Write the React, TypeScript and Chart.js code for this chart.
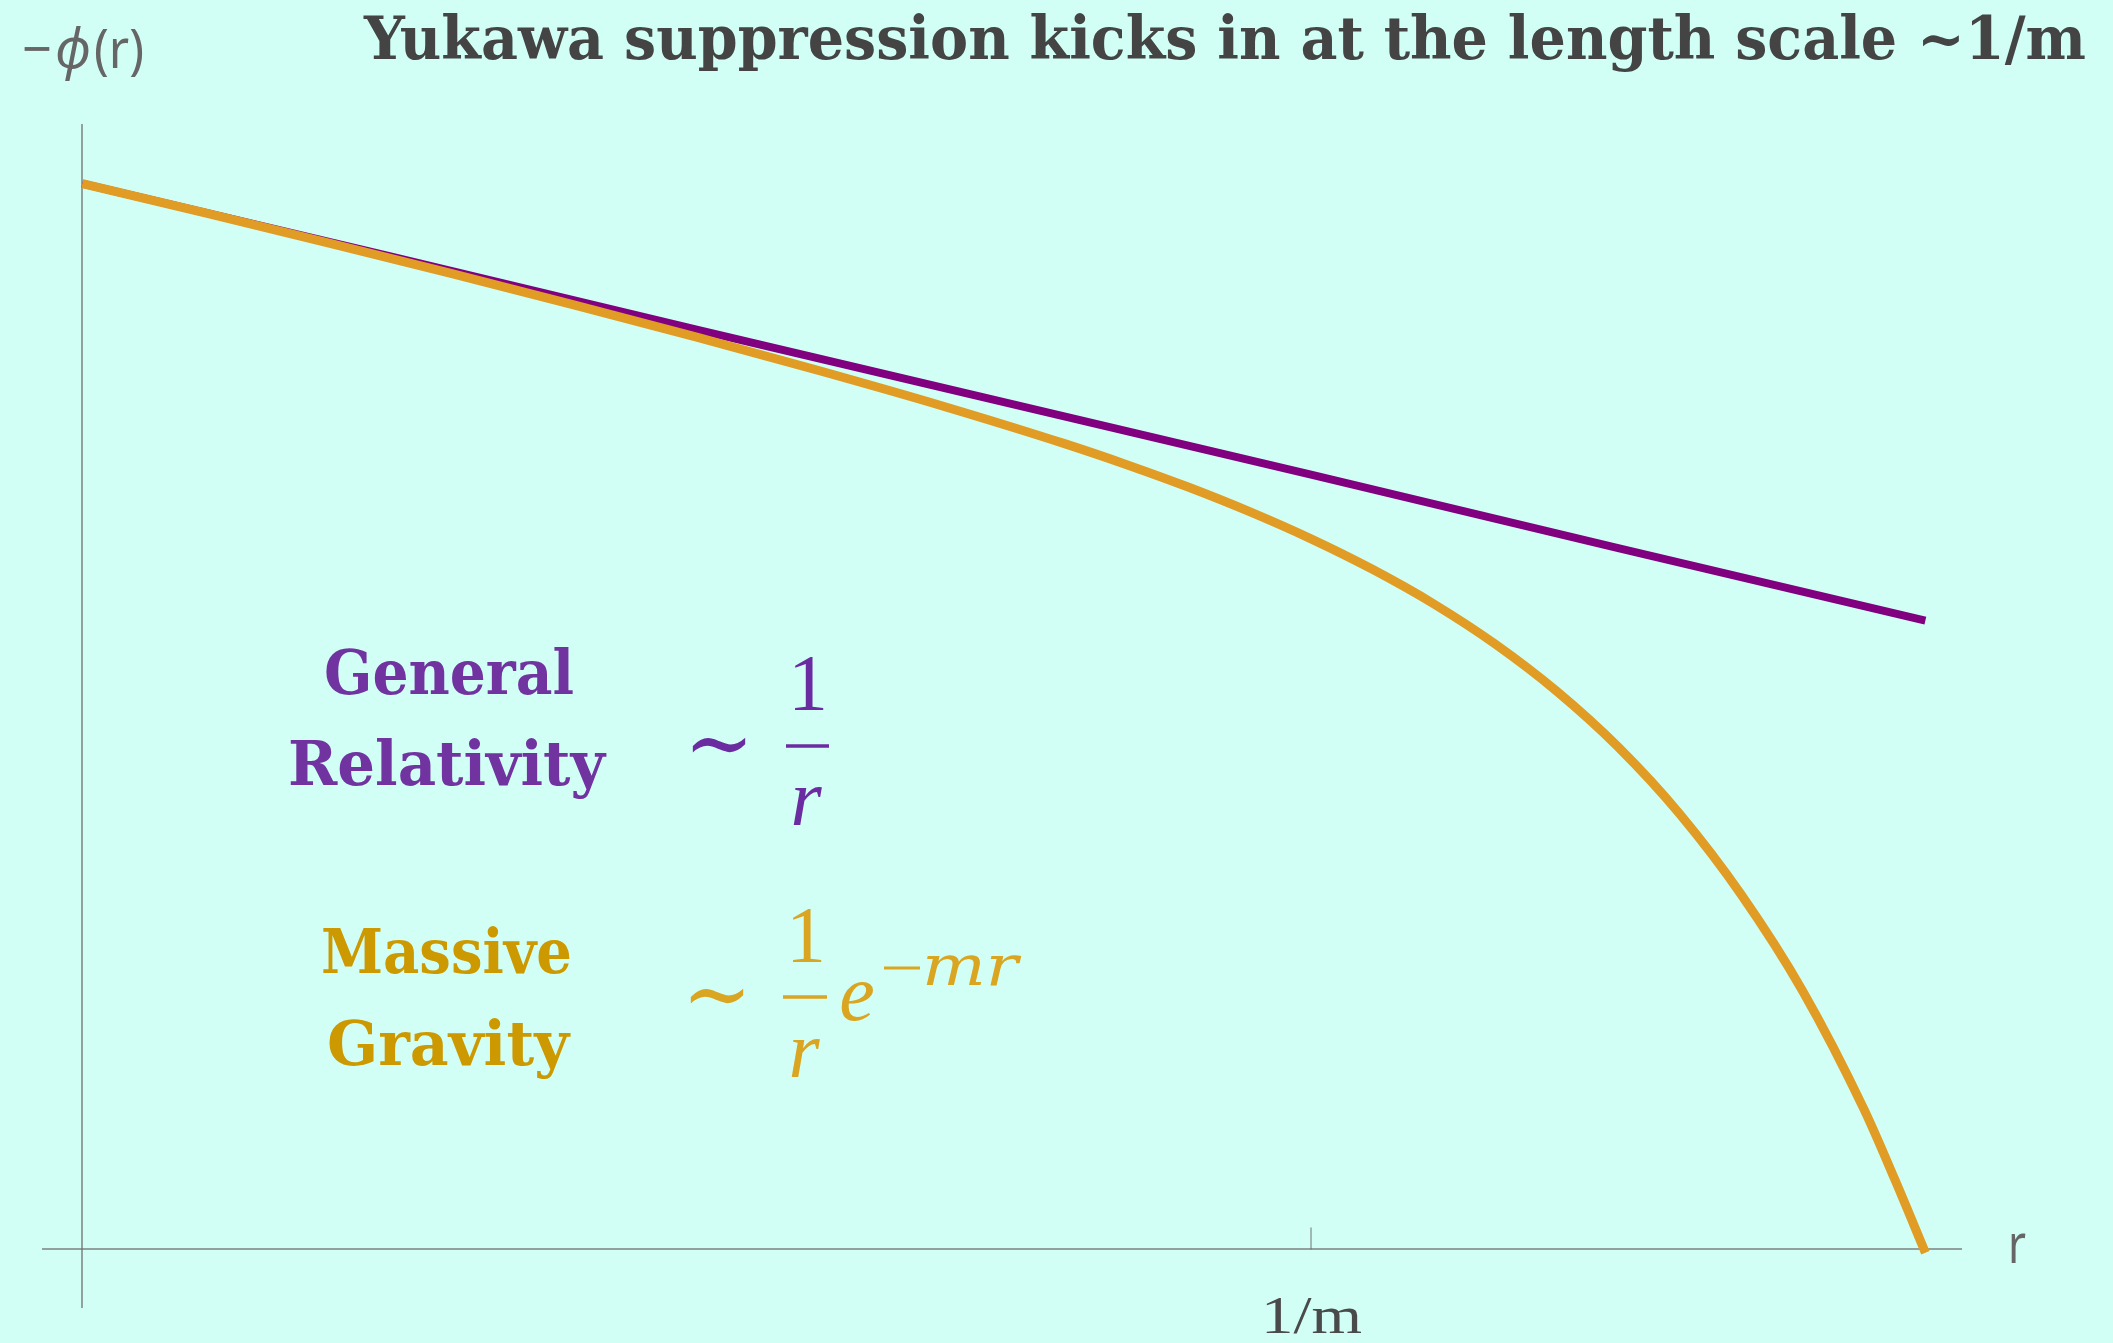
import React, { useEffect, useRef } from "react";
import { Chart, registerables } from "chart.js";

Chart.register(...registerables);

// ---- data (r in units of 1/m, potential in arbitrary units) ----
const rGR = [0, 0.25, 0.5, 0.75, 1.0, 1.25, 1.5];
const phiGR = [1.0, 0.932, 0.863, 0.795, 0.727, 0.658, 0.59];

const rMG = [
  0, 0.1, 0.2, 0.3, 0.4, 0.5, 0.6, 0.7, 0.8, 0.85, 0.9, 0.95, 1.0, 1.05, 1.1, 1.15, 1.2, 1.25,
  1.3, 1.35, 1.4, 1.45, 1.475, 1.5,
];
const phiMG = [
  1.0, 0.9725, 0.9445, 0.9158, 0.8863, 0.856, 0.8244, 0.7914, 0.7558, 0.7363, 0.7153, 0.6922,
  0.6667, 0.6381, 0.6056, 0.5679, 0.5237, 0.4714, 0.4087, 0.3332, 0.2428, 0.1316, 0.066, -0.003,
];

const xTickValues = [1];
const xTickLabels = ["1/m"];

const titleText = "Yukawa suppression kicks in at the length scale ~1/m";
const xAxisLabel = "r";

const BG = "#d1fff5";
const AXIS = "rgba(110,110,110,0.65)";
const GR_LINE = "#800080";
const MG_LINE = "#e09c24";
const GR_TEXT = "#7033a0";
const MG_TEXT = "#cc9900";
const GR_MATH = "#6a2ca0";
const MG_MATH = "#daa520";
const LABEL = "#666666";

function fitText(
  ctx: CanvasRenderingContext2D,
  text: string,
  left: number,
  baseline: number,
  width: number,
  font: string,
  color: string
) {
  ctx.save();
  ctx.font = font;
  ctx.fillStyle = color;
  ctx.textAlign = "left";
  ctx.textBaseline = "alphabetic";
  const w = ctx.measureText(text).width || 1;
  ctx.translate(left, baseline);
  ctx.scale(width / w, 1);
  ctx.fillText(text, 0, 0);
  ctx.restore();
}

function centerText(
  ctx: CanvasRenderingContext2D,
  text: string,
  cx: number,
  baseline: number,
  font: string,
  color: string
) {
  ctx.save();
  ctx.font = font;
  ctx.fillStyle = color;
  ctx.textAlign = "center";
  ctx.textBaseline = "alphabetic";
  ctx.fillText(text, cx, baseline);
  ctx.restore();
}

function hLine(ctx: CanvasRenderingContext2D, x1: number, x2: number, y: number, w: number, color: string) {
  ctx.save();
  ctx.strokeStyle = color;
  ctx.lineWidth = w;
  ctx.beginPath();
  ctx.moveTo(x1, y);
  ctx.lineTo(x2, y);
  ctx.stroke();
  ctx.restore();
}

const decorPlugin = {
  id: "decor",
  afterDraw(chart: any) {
    const ctx: CanvasRenderingContext2D = chart.ctx;
    const xs = chart.scales.x;
    const ys = chart.scales.y;
    const y0 = ys.getPixelForValue(0);
    const area = chart.chartArea;

    // x ticks (inward) and labels
    xTickValues.forEach((v, i) => {
      const px = xs.getPixelForValue(v);
      ctx.save();
      ctx.strokeStyle = AXIS;
      ctx.lineWidth = 1.5;
      ctx.beginPath();
      ctx.moveTo(px, y0);
      ctx.lineTo(px, y0 - 22);
      ctx.stroke();
      ctx.restore();
      fitText(ctx, xTickLabels[i], px - 50, y0 + 84, 101, '52px "Liberation Serif"', "#4a4a4a");
    });

    // axis labels
    fitText(ctx, xAxisLabel, area.right + 47, y0 + 14, 18, '54px "Noto Sans"', LABEL);
    fitText(ctx, "\u2212", 22, 68, 30, '54px "Noto Sans"', LABEL);
    fitText(ctx, "\u03D5", 55, 68, 36, 'italic 54px "Noto Sans"', LABEL);
    fitText(ctx, "(r)", 94, 68, 50, '54px "Noto Sans"', LABEL);

    // title
    fitText(ctx, titleText, 364, 59, 1722, 'bold 60px "DejaVu Serif"', "#444444");

    // annotation labels
    const bf = 'bold 62px "DejaVu Serif"';
    fitText(ctx, "General", 324, 694, 250, bf, GR_TEXT);
    fitText(ctx, "Relativity", 288, 785, 317, bf, GR_TEXT);
    fitText(ctx, "Massive", 321, 973, 251, bf, MG_TEXT);
    fitText(ctx, "Gravity", 327, 1065, 242, bf, MG_TEXT);

    // formula 1:  ~ 1/r
    fitText(ctx, "\u223C", 684, 774, 70, '92px "DejaVu Serif"', GR_MATH);
    centerText(ctx, "1", 808, 710, '80px "Liberation Serif"', GR_MATH);
    hLine(ctx, 786, 829, 746, 3.5, GR_MATH);
    centerText(ctx, "r", 806, 825, 'italic 80px "Liberation Serif"', GR_MATH);

    // formula 2:  ~ (1/r) e^{-mr}
    fitText(ctx, "\u223C", 682, 1025, 70, '92px "DejaVu Serif"', MG_MATH);
    centerText(ctx, "1", 806, 962, '80px "Liberation Serif"', MG_MATH);
    hLine(ctx, 783, 827, 997, 3.5, MG_MATH);
    centerText(ctx, "r", 804, 1077, 'italic 80px "Liberation Serif"', MG_MATH);
    centerText(ctx, "e", 857, 1020, 'italic 80px "Liberation Serif"', MG_MATH);
    hLine(ctx, 884, 920, 968, 3, MG_MATH);
    fitText(ctx, "mr", 922, 985, 96, 'italic 56px "DejaVu Serif"', MG_MATH);
  },
};

export default function App() {
  const canvasRef = useRef<HTMLCanvasElement | null>(null);

  useEffect(() => {
    document.body.style.margin = "0";
    document.body.style.background = BG;
    const canvas = canvasRef.current;
    if (!canvas) return;
    const chart = new Chart(canvas, {
      type: "scatter",
      data: {
        datasets: [
          {
            label: "Massive Gravity",
            data: rMG.map((r, i) => ({ x: r, y: phiMG[i] })),
            showLine: true,
            borderColor: MG_LINE,
            backgroundColor: MG_LINE,
            borderWidth: 9,
            pointRadius: 0,
            cubicInterpolationMode: "monotone",
            fill: false,
            order: 0,
          },
          {
            label: "General Relativity",
            data: rGR.map((r, i) => ({ x: r, y: phiGR[i] })),
            showLine: true,
            borderColor: GR_LINE,
            backgroundColor: GR_LINE,
            borderWidth: 8,
            pointRadius: 0,
            fill: false,
            order: 1,
          },
        ],
      },
      options: {
        responsive: false,
        animation: false,
        devicePixelRatio: 1,
        layout: { padding: { left: 43, right: 152, top: 125, bottom: 36 } },
        plugins: {
          legend: { display: false },
          tooltip: { enabled: false },
          title: { display: false },
        },
        scales: {
          x: {
            type: "linear",
            min: -0.032,
            max: 1.529,
            position: { y: 0 } as any,
            grid: { display: false },
            ticks: { display: false },
            border: { display: true, color: AXIS, width: 2 },
          },
          y: {
            type: "linear",
            min: -0.054,
            max: 1.055,
            position: { x: 0 } as any,
            grid: { display: false },
            ticks: { display: false },
            border: { display: true, color: AXIS, width: 2 },
          },
        },
      } as any,
      plugins: [decorPlugin],
    });
    return () => chart.destroy();
  }, []);

  return (
    <div
      style={{
        position: "fixed",
        left: 0,
        top: 0,
        width: 2113,
        height: 1343,
        background: BG,
        overflow: "hidden",
      }}
    >
      <canvas ref={canvasRef} width={2113} height={1343} style={{ display: "block" }} />
    </div>
  );
}
